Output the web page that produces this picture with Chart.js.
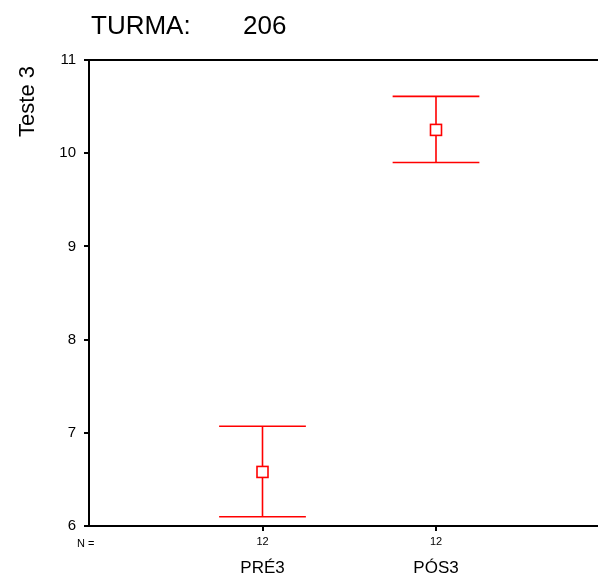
<!DOCTYPE html>
<html><head><meta charset="utf-8">
<script src="https://cdn.jsdelivr.net/npm/chart.js@4"></script>
<style>html,body{margin:0;padding:0;background:#fff}#c{display:block}</style>
</head><body>
<canvas id="c" width="598" height="577"></canvas>
<script>
const categories = ["PRÉ3", "PÓS3"];
const nValues = [12, 12];
const means = [6.58, 10.25];
const lowerCI = [6.10, 9.90];
const upperCI = [7.07, 10.61];
const yTicks = [6, 7, 8, 9, 10, 11];
const titleLabel = "TURMA:";
const titleValue = "206";
const yTitle = "Teste 3";

const FONT = "'Liberation Sans', Arial, sans-serif";
const RED = "#ff0000";

const errPlugin = {
  id: 'errbars',
  afterDatasetsDraw(chart) {
    const ctx = chart.ctx, x = chart.scales.x, y = chart.scales.y, a = chart.chartArea;
    ctx.save();
    ctx.strokeStyle = '#000'; ctx.lineWidth = 2;
    ctx.beginPath(); ctx.moveTo(a.left - 5, y.getPixelForValue(11)); ctx.lineTo(a.right, y.getPixelForValue(11)); ctx.stroke();
    ctx.strokeStyle = RED; ctx.lineWidth = 1.6;
    categories.forEach((c, i) => {
      const px = x.getPixelForValue(i + 1);
      const xl = x.getPixelForValue(i + 1 - 0.25), xr = x.getPixelForValue(i + 1 + 0.25);
      const yl = y.getPixelForValue(lowerCI[i]), yu = y.getPixelForValue(upperCI[i]), ym = y.getPixelForValue(means[i]);
      ctx.beginPath();
      ctx.moveTo(px, yl); ctx.lineTo(px, yu);
      ctx.moveTo(xl, yl); ctx.lineTo(xr, yl);
      ctx.moveTo(xl, yu); ctx.lineTo(xr, yu);
      ctx.stroke();
      ctx.fillStyle = '#fff';
      ctx.fillRect(px - 5.5, ym - 5.5, 11, 11);
      ctx.strokeRect(px - 5.5, ym - 5.5, 11, 11);
    });
    ctx.fillStyle = '#000';
    ctx.textBaseline = 'middle';
    ctx.textAlign = 'center';
    categories.forEach((c, i) => {
      const px = x.getPixelForValue(i + 1);
      ctx.font = "11px " + FONT;
      ctx.fillText(String(nValues[i]), px, 542);
      ctx.font = "17px " + FONT;
      ctx.fillText(c, px, 568);
    });
    ctx.font = "11px " + FONT;
    ctx.textAlign = 'left';
    ctx.fillText("N =", 77, 544);
    ctx.textBaseline = 'alphabetic';
    ctx.font = "26px " + FONT;
    ctx.fillText(titleLabel, 91, 34);
    ctx.fillText(titleValue, 243, 34);
    ctx.save();
    ctx.translate(34, 101.5);
    ctx.rotate(-Math.PI / 2);
    ctx.textAlign = 'center';
    ctx.font = "22px " + FONT;
    ctx.fillText(yTitle, 0, 0);
    ctx.restore();
    ctx.restore();
  }
};

new Chart(document.getElementById('c'), {
  type: 'scatter',
  data: { datasets: [{ data: means.map((m, i) => ({ x: i + 1, y: m })), pointRadius: 0, showLine: false }] },
  options: {
    responsive: false, animation: false,
    layout: { padding: { top: 60, right: 0, left: 0, bottom: 0 } },
    plugins: { legend: { display: false }, tooltip: { enabled: false } },
    scales: {
      x: {
        type: 'linear', min: 0, max: (598 - 89) / 173.5,
        afterBuildTicks(s) { s.ticks = categories.map((c, i) => ({ value: i + 1 })); },
        ticks: { display: false },
        grid: { drawOnChartArea: false, tickLength: 5, color: '#000', lineWidth: 2 },
        border: { color: '#000', width: 2 },
        afterFit(s) { s.height = 51; }
      },
      y: {
        min: 6, max: 11,
        afterBuildTicks(s) { s.ticks = yTicks.map(v => ({ value: v })); },
        ticks: { color: '#000', font: { family: FONT, size: 15 }, padding: 8 },
        grid: { drawOnChartArea: false, tickLength: 5, color: '#000', lineWidth: 2 },
        border: { color: '#000', width: 2 },
        afterFit(s) { s.width = 89; }
      }
    }
  },
  plugins: [errPlugin]
});
</script>
</body></html>
